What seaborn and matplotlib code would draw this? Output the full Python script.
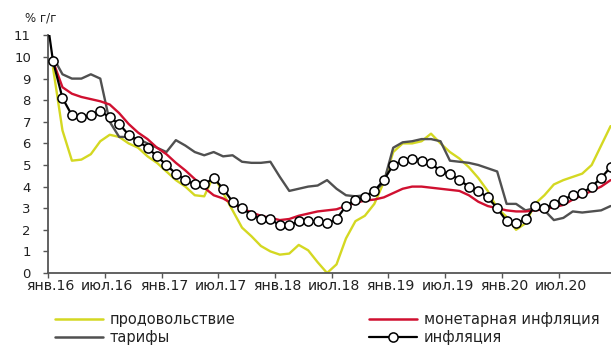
import numpy as np
import pandas as pd
import matplotlib
matplotlib.use("Agg")
import matplotlib.pyplot as plt
from matplotlib.lines import Line2D
import seaborn as sns

# Monthly series, Dec 2015 .. Dec 2020 (index -1 .. 59), % y/y
months = list(range(-1, 60))

inflation = [12.9,
             9.8, 8.1, 7.3, 7.2, 7.3, 7.5, 7.2, 6.9, 6.4, 6.1, 5.8, 5.4,
             5.0, 4.6, 4.3, 4.1, 4.1, 4.4, 3.9, 3.3, 3.0, 2.7, 2.5, 2.5,
             2.2, 2.2, 2.4, 2.4, 2.4, 2.3, 2.5, 3.1, 3.4, 3.5, 3.8, 4.3,
             5.0, 5.2, 5.3, 5.2, 5.1, 4.7, 4.6, 4.3, 4.0, 3.8, 3.5, 3.0,
             2.4, 2.3, 2.5, 3.1, 3.0, 3.2, 3.4, 3.6, 3.7, 4.0, 4.4, 4.9]

food = [np.nan,
        9.5, 6.6, 5.2, 5.25, 5.5, 6.1, 6.4, 6.3, 6.0, 5.8, 5.4, 5.1,
        4.7, 4.3, 4.0, 3.6, 3.55, 4.5, 3.7, 2.9, 2.1, 1.7, 1.25, 1.0,
        0.85, 0.9, 1.3, 1.05, 0.5, 0.0, 0.4, 1.6, 2.4, 2.65, 3.2, 4.2,
        5.6, 6.0, 6.0, 6.1, 6.45, 6.0, 5.6, 5.3, 4.9, 4.4, 3.8, 3.0,
        2.6, 2.0, 2.3, 3.2, 3.6, 4.1, 4.3, 4.45, 4.6, 5.0, 5.9, 6.8]

monetary = [np.nan,
            9.8, 8.6, 8.3, 8.15, 8.05, 7.95, 7.8, 7.4, 6.9, 6.5, 6.2, 5.8,
            5.5, 5.1, 4.75, 4.35, 3.95, 3.6, 3.45, 3.2, 3.0, 2.8, 2.65, 2.55,
            2.45, 2.5, 2.65, 2.75, 2.85, 2.9, 2.95, 3.1, 3.25, 3.35, 3.4, 3.5,
            3.7, 3.9, 4.0, 4.0, 3.95, 3.9, 3.85, 3.8, 3.6, 3.3, 3.1, 3.0,
            2.9, 2.85, 2.85, 2.9, 2.95, 3.05, 3.15, 3.4, 3.6, 3.8, 4.0, 4.3]

tariffs = [np.nan,
           10.0, 9.2, 9.0, 9.0, 9.2, 9.0, 7.0, 6.3, 6.3, 6.2, 6.0, 5.8,
           5.6, 6.15, 5.9, 5.6, 5.45, 5.6, 5.4, 5.45, 5.15, 5.1, 5.1, 5.15,
           4.45, 3.8, 3.9, 4.0, 4.05, 4.3, 3.9, 3.6, 3.55, 3.6, 3.75, 4.2,
           5.8, 6.05, 6.1, 6.2, 6.2, 6.1, 5.2, 5.15, 5.1, 5.0, 4.85, 4.7,
           3.2, 3.2, 2.9, 3.0, 2.9, 2.45, 2.55, 2.85, 2.8, 2.85, 2.9, 3.1]

tick_labels = ["янв.16", "июл.16", "янв.17", "июл.17", "янв.18",
               "июл.18", "янв.19", "июл.19", "янв.20", "июл.20"]

series_colors = {"продовольствие": "#d4d822",
                 "монетарная инфляция": "#d01030",
                 "тарифы": "#505050",
                 "инфляция": "#000000"}

df = pd.DataFrame({"month": months,
                   "продовольствие": food,
                   "монетарная инфляция": monetary,
                   "тарифы": tariffs,
                   "инфляция": inflation})

sns.set_theme(style="white")
plt.rcParams["font.family"] = ["DejaVu Sans"]

W, H = 611, 345
fig = plt.figure(figsize=(W / 100, H / 100), dpi=100)
ax_left, ax_right, ax_top, ax_bottom = 48.3, 615.3, 35.4, 273.0
ax = fig.add_axes([ax_left / W, 1 - ax_bottom / H,
                   (ax_right - ax_left) / W, (ax_bottom - ax_top) / H])

for name in ["продовольствие", "тарифы", "монетарная инфляция"]:
    sns.lineplot(data=df, x="month", y=name, ax=ax, color=series_colors[name],
                 linewidth=1.7, estimator=None, sort=False, legend=False)

sns.lineplot(data=df, x="month", y="инфляция", ax=ax, color="black",
             linewidth=1.6, estimator=None, sort=False, legend=False,
             marker="o", markersize=6.6, markerfacecolor="white",
             markeredgecolor="black", markeredgewidth=1.1, zorder=5)

ax.set_xlim(-0.5, 59.5)
ax.set_ylim(0, 11)
ax.set_xlabel("")
ax.set_ylabel("")

# category boundaries carry the tick marks, labels sit near the boundary
ax.set_xticks(np.arange(-0.5, 60, 6))
ax.set_xticklabels([])
ax.set_xticks(np.arange(-0.25, 54.5, 6), minor=True)
ax.set_xticklabels(tick_labels, minor=True, fontsize=10.2, color="#222222")
ax.tick_params(axis="x", which="major", direction="out", length=3.5,
               width=1.0, color="#555555", bottom=True)
ax.tick_params(axis="x", which="minor", length=0, pad=4, bottom=True)

ax.set_yticks(range(0, 12))
ax.set_yticklabels([str(v) for v in range(0, 12)], fontsize=9.5,
                   color="#222222")
ax.tick_params(axis="y", direction="out", length=3.5, width=1.0,
               color="#555555", left=True, pad=9)

for side in ["top", "right"]:
    ax.spines[side].set_visible(False)
for side in ["left", "bottom"]:
    ax.spines[side].set_color("#555555")
    ax.spines[side].set_linewidth(1.3)
ax.grid(False)

fig.text(25 / W, 1 - 18 / H, "% г/г", fontsize=8.5, color="#222222",
         va="center", ha="left")


def handle(name):
    if name == "инфляция":
        h = Line2D([0, 1, 2], [0, 0, 0], color="black", linewidth=1.6,
                   marker="o", markersize=6.6, markerfacecolor="white",
                   markeredgecolor="black", markeredgewidth=1.1,
                   markevery=[1])
        return h
    return Line2D([], [], color=series_colors[name], linewidth=1.8)


def legend_block(names, x_px, y_px):
    hs = [handle(n) for n in names]
    return fig.legend(hs, names, loc="upper left",
                      bbox_to_anchor=(x_px / W, 1 - y_px / H),
                      frameon=False, fontsize=10.5, handlelength=3.3,
                      handletextpad=0.45, labelspacing=0.2, borderpad=0,
                      borderaxespad=0, labelcolor="#222222")


# two independent legend columns (fig.legend keeps both)
legend_block(["продовольствие", "тарифы"], 55, 312)
legend_block(["монетарная инфляция", "инфляция"], 369, 312)

fig.savefig("out.png", dpi=100)
